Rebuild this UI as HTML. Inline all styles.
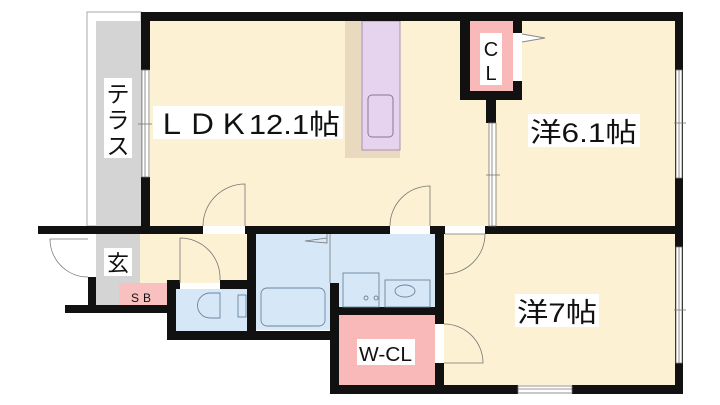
<!DOCTYPE html>
<html><head><meta charset="utf-8"><style>
body{margin:0;background:#fff}
svg{display:block}
text{font-family:"Liberation Sans","Noto Sans CJK JP",sans-serif;fill:#111}
</style></head><body>
<svg width="720" height="405" viewBox="0 0 720 405" xmlns="http://www.w3.org/2000/svg">
<rect x="87" y="12" width="54" height="214" fill="#fff" stroke="#aaa" stroke-width="1"/>
<rect x="96" y="21" width="44" height="205" fill="#d4d4d4"/>
<rect x="150" y="21" width="525" height="205" fill="#fdf1d3"/>
<rect x="96" y="234" width="44" height="71" fill="#d4d4d4"/>
<rect x="140" y="234" width="107" height="49" fill="#fdf1d3"/>
<rect x="119" y="283" width="48" height="22" fill="#f9c0c0"/>
<rect x="176" y="289" width="71" height="42" fill="#d6e8f8"/>
<rect x="256" y="234" width="179" height="96" fill="#d6e8f8"/>
<rect x="339" y="315" width="96" height="70" fill="#f9b9b9"/>
<rect x="444" y="234" width="231" height="151" fill="#fdf1d3"/>
<rect x="345" y="18" width="55" height="140" fill="#e8d9bf"/>
<rect x="362" y="21" width="38" height="129" fill="#e6d4ee" stroke="#a98fb5" stroke-width="1"/>
<rect x="368" y="95" width="25" height="42" rx="4" fill="none" stroke="#8a7595" stroke-width="1"/>
<rect x="460" y="12" width="62" height="88" fill="#111"/>
<rect x="470" y="21" width="43" height="70" fill="#f9b9b9"/>
<rect x="513" y="33" width="9" height="48" fill="#fff"/>
<polyline points="522,34 545,38 522,42" fill="#fff" stroke="#888" stroke-width="1"/>
<g fill="#111">
<rect x="141" y="12" width="542" height="9"/>
<rect x="675" y="12" width="8" height="382"/>
<rect x="141" y="12" width="9" height="58"/>
<rect x="141" y="177" width="9" height="57"/>
<rect x="38" y="226" width="165" height="8"/>
<rect x="245" y="226" width="145" height="8"/>
<rect x="430" y="226" width="15" height="8"/>
<rect x="485" y="226" width="198" height="8"/>
<rect x="88" y="277" width="8" height="36"/>
<rect x="65" y="305" width="110" height="8"/>
<rect x="167" y="280" width="9" height="60"/>
<rect x="167" y="280" width="13" height="9"/>
<rect x="220" y="280" width="36" height="9"/>
<rect x="167" y="331" width="172" height="9"/>
<rect x="247" y="226" width="9" height="114"/>
<rect x="330" y="283" width="9" height="111"/>
<rect x="337" y="307" width="107" height="8"/>
<rect x="435" y="226" width="9" height="98"/>
<rect x="435" y="363" width="9" height="31"/>
<rect x="330" y="385" width="188" height="9"/>
<rect x="572" y="385" width="111" height="9"/>
<rect x="486" y="100" width="10" height="23"/>
</g>
<g fill="#fff" stroke="#777" stroke-width="0.8">
<rect x="142" y="70" width="7" height="107"/>
<rect x="676" y="70" width="6" height="108"/>
<rect x="676" y="247" width="6" height="116"/>
<rect x="518" y="386" width="54" height="7"/>
<rect x="489" y="123" width="7" height="103"/>
</g>
<g stroke="#777" stroke-width="0.8" fill="none">
<line x1="145" y1="70" x2="145" y2="177"/><line x1="679" y1="70" x2="679" y2="178"/>
<line x1="679" y1="247" x2="679" y2="363"/><line x1="518" y1="389" x2="572" y2="389"/>
<line x1="492" y1="123" x2="492" y2="226"/>
<line x1="138" y1="124" x2="152" y2="124"/><line x1="674" y1="123" x2="686" y2="123"/>
<line x1="674" y1="310" x2="686" y2="310"/><line x1="486" y1="175" x2="500" y2="175"/>
<path d="M245,226 L245,184 A42,42 0 0 0 203,226"/>
<path d="M430,226 L430,186 A40,40 0 0 0 390,226"/>
<path d="M445,234 L485,234 A40,40 0 0 1 445,274"/>
<path d="M88,277 A38,38 0 0 1 50,239 L88,239"/>
<path d="M180,238 L180,283 M180,238 A40,40 0 0 1 220,280"/>
<path d="M444,324 A39,39 0 0 1 483,363 L444,363"/>
<polyline points="327,234 327,243 305,241 327,238"/>
<line x1="330" y1="234" x2="330" y2="283"/>
</g>
<g fill="none" stroke="#6a85a0" stroke-width="0.9">
<rect x="261" y="288" width="64" height="38" rx="6"/>
<rect x="343" y="273" width="36" height="34"/>
<rect x="385" y="280" width="45" height="27"/>
<ellipse cx="405" cy="291" rx="10" ry="6"/>
<path d="M220,293 L210,293 A10,10 0 0 0 210,318 L220,318 Z"/>
<rect x="238" y="295" width="8" height="22"/>
<circle cx="366" cy="298" r="2"/><circle cx="376" cy="298" r="2"/>
</g>
<rect x="153" y="106" width="190" height="33" fill="#fff"/>
<text x="156" y="134" font-size="28" textLength="184" lengthAdjust="spacingAndGlyphs">ＬＤＫ12.1帖</text>
<rect x="104" y="78" width="28" height="80" fill="#fff"/>
<text x="118" y="102" font-size="23" text-anchor="middle">テ</text>
<text x="118" y="128" font-size="23" text-anchor="middle">ラ</text>
<text x="118" y="154" font-size="23" text-anchor="middle">ス</text>
<rect x="104" y="248" width="28" height="28" fill="#fff"/>
<text x="118" y="271" font-size="22" text-anchor="middle">玄</text>
<text x="143" y="302" font-size="12" text-anchor="middle" letter-spacing="4">SB</text>
<rect x="480" y="33" width="22" height="52" fill="#fff"/>
<text x="491" y="56" font-size="20" text-anchor="middle">C</text>
<text x="491" y="80" font-size="20" text-anchor="middle">L</text>
<rect x="528" y="114" width="112" height="33" fill="#fff"/>
<text x="530" y="142" font-size="27" textLength="107" lengthAdjust="spacingAndGlyphs">洋6.1帖</text>
<rect x="515" y="294" width="84" height="33" fill="#fff"/>
<text x="517" y="322" font-size="27" textLength="80" lengthAdjust="spacingAndGlyphs">洋7帖</text>
<rect x="357" y="339" width="58" height="26" fill="#fff"/>
<text x="359" y="361" font-size="20" textLength="53" lengthAdjust="spacingAndGlyphs">W-CL</text>
</svg>
</body></html>
